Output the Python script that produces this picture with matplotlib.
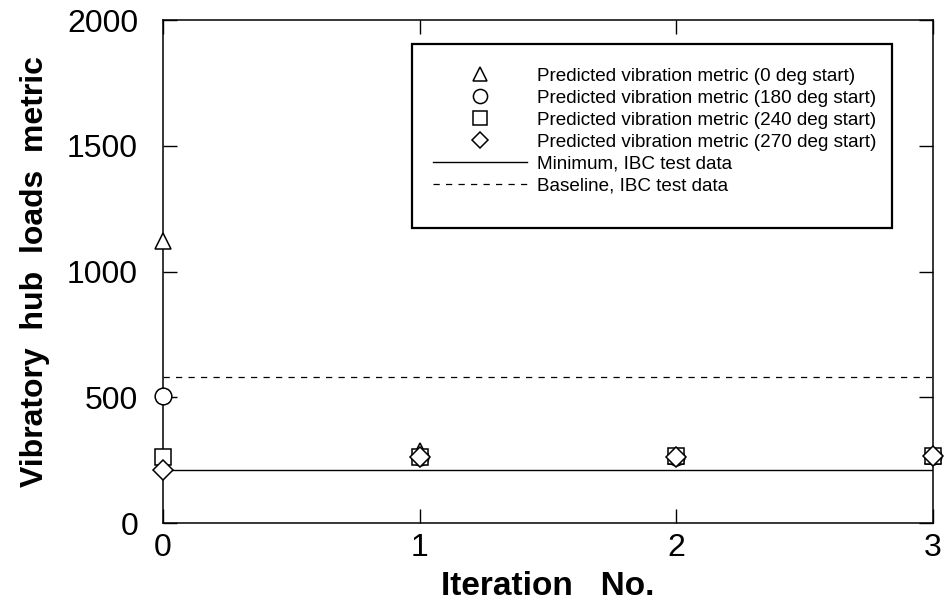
import matplotlib.pyplot as plt
import matplotlib.patches as mpatches
import numpy as np

plt.rcParams['font.family'] = ['Liberation Sans', 'DejaVu Sans']

iterations = [0, 1, 2, 3]
metric_0deg = [1120, 285, 265, 265]
metric_180deg = [505, 262, 262, 265]
metric_240deg = [262, 262, 265, 265]
metric_270deg = [212, 262, 262, 265]
series_labels = ["Predicted vibration metric (0 deg start)",
                 "Predicted vibration metric (180 deg start)",
                 "Predicted vibration metric (240 deg start)",
                 "Predicted vibration metric (270 deg start)"]
series_markers = ['^', 'o', 's', 'D']
minimum_ibc = 212
baseline_ibc = 580
x_ticks = [0, 1, 2, 3]
y_ticks = [0, 500, 1000, 1500, 2000]


def main():
    fig = plt.figure(figsize=(9.45, 6.09), dpi=100)
    ax = fig.add_axes([0.1725, 0.141, 0.8145, 0.826])

    series = [metric_0deg, metric_180deg, metric_240deg, metric_270deg]
    for values, marker, label in zip(series, series_markers, series_labels):
        size = 10 if marker == 'D' else 12
        ax.plot(iterations, values, linestyle='none', marker=marker,
                markersize=size, markerfacecolor='white', markeredgecolor='black',
                markeredgewidth=1.1, label=label, clip_on=False, zorder=3)

    ax.plot([iterations[0], iterations[-1]], [minimum_ibc, minimum_ibc],
            color='black', linewidth=1.0, label="Minimum, IBC test data")
    ax.plot([iterations[0], iterations[-1]], [baseline_ibc, baseline_ibc],
            color='black', linewidth=0.9, linestyle=(0, (5, 5)),
            label="Baseline, IBC test data")

    ax.set_xlim(0, 3)
    ax.set_ylim(0, 2000)
    ax.set_xticks(x_ticks)
    ax.set_yticks(y_ticks)
    ax.tick_params(direction='in', length=10, width=1, top=True, right=True,
                   labelsize=23)
    ax.tick_params(axis='x', pad=7)
    ax.tick_params(axis='y', pad=18)
    for spine in ax.spines.values():
        spine.set_linewidth(1.1)

    ax.set_xlabel("Iteration   No.", fontsize=24, fontweight='bold', labelpad=6)
    ax.set_ylabel("Vibratory  hub  loads  metric", fontsize=23,
                  fontweight='bold', labelpad=12)

    # legend box drawn separately so the padding can be uneven
    box = mpatches.Rectangle((0.323, 0.586), 0.624, 0.366, transform=ax.transAxes,
                             facecolor='white', edgecolor='black', linewidth=1.6,
                             zorder=4)
    ax.add_patch(box)
    leg = ax.legend(loc='upper left', bbox_to_anchor=(0.351, 0.905),
                    fontsize=13.6, handlelength=4.95, handletextpad=0.55,
                    labelspacing=0.25, borderpad=0, borderaxespad=0,
                    markerscale=0.85, frameon=False)
    leg.set_zorder(5)

    fig.savefig("out.png", dpi=100)


if __name__ == "__main__":
    main()
